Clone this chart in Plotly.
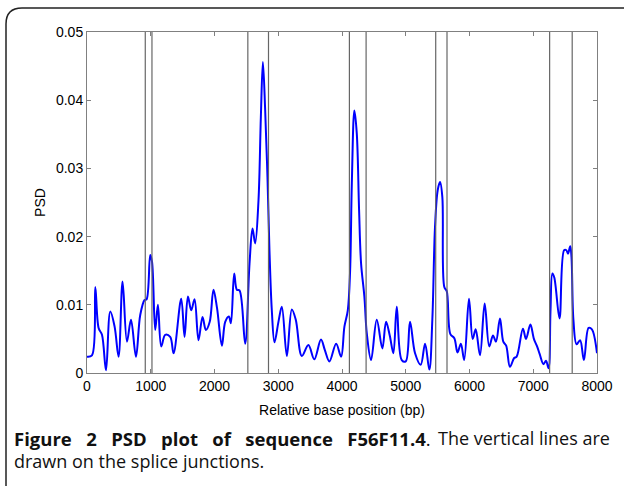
import plotly.graph_objects as go

# ---- data ----
position = [0, 78, 130, 182, 235, 298, 365, 433, 495, 558, 627, 690, 768, 835, 903, 935,
            992, 1020, 1070, 1112, 1165, 1227, 1305, 1358, 1478, 1530, 1583, 1635, 1687,
            1749, 1812, 1865, 1925, 1984, 2040, 2116, 2168, 2225, 2257, 2309, 2351, 2393,
            2481, 2549, 2596, 2638, 2690, 2727, 2759, 2795, 2831, 2862, 2899, 2941, 3003,
            3056, 3135, 3213, 3275, 3370, 3473, 3565, 3670, 3730, 3803, 3908, 3986, 4038,
            4091, 4127, 4154, 4194, 4232, 4268, 4299, 4351, 4389, 4456, 4545, 4633, 4691,
            4749, 4806, 4859, 4937, 5000, 5067, 5146, 5235, 5303, 5370, 5417, 5459, 5501,
            5538, 5574, 5605, 5643, 5700, 5762, 5812, 5865, 5916, 5992, 6050, 6097, 6165,
            6238, 6310, 6368, 6415, 6478, 6530, 6575, 6635, 6700, 6740, 6838, 6886, 6955,
            7010, 7060, 7100, 7160, 7200, 7240, 7270, 7300, 7330, 7412, 7484, 7520, 7545,
            7580, 7600, 7630, 7680, 7735, 7795, 7868, 7920, 8000]
psd = [0.0024, 0.0026, 0.0126, 0.0066, 0.0056, 0.0004, 0.0090, 0.0068, 0.0024, 0.0134,
       0.0046, 0.0078, 0.0024, 0.0085, 0.0107, 0.0108, 0.0173, 0.0163, 0.0063, 0.0100,
       0.0039, 0.0056, 0.0053, 0.0029, 0.0109, 0.0053, 0.0112, 0.0092, 0.0108, 0.0048,
       0.0082, 0.0063, 0.0075, 0.0122, 0.0095, 0.0040, 0.0075, 0.0083, 0.0073, 0.0146,
       0.0122, 0.0121, 0.0043, 0.0160, 0.0212, 0.0190, 0.0253, 0.0375, 0.0456, 0.0385,
       0.0287, 0.0180, 0.0092, 0.0045, 0.0075, 0.0097, 0.0025, 0.0093, 0.0078, 0.0025,
       0.0041, 0.0020, 0.0049, 0.0034, 0.0017, 0.0043, 0.0024, 0.0068, 0.0092, 0.0150,
       0.0278, 0.0385, 0.0351, 0.0239, 0.0161, 0.0112, 0.0058, 0.0019, 0.0078, 0.0036,
       0.0075, 0.0055, 0.0029, 0.0097, 0.0019, 0.0017, 0.0075, 0.0029, 0.0012, 0.0043,
       0.0005, 0.0078, 0.0214, 0.0268, 0.0280, 0.0258, 0.0126, 0.0120, 0.0057, 0.0051,
       0.0030, 0.0043, 0.0019, 0.0109, 0.0050, 0.0064, 0.0026, 0.0102, 0.0039, 0.0055,
       0.0046, 0.0080, 0.0046, 0.0040, 0.0009, 0.0022, 0.0024, 0.0065, 0.0050, 0.0071,
       0.0050, 0.0039, 0.0028, 0.0013, 0.0018, 0.0007, 0.0090, 0.0146, 0.0140, 0.0080,
       0.0180, 0.0180, 0.0175, 0.0186, 0.0170, 0.0078, 0.0042, 0.0048, 0.0019, 0.0066,
       0.0064, 0.0029]
splice_junctions = [914, 1019, 2523, 2847, 4116, 4378, 5470, 5647, 7257, 7611]
x_ticks = [0, 1000, 2000, 3000, 4000, 5000, 6000, 7000, 8000]
y_ticks = [0, 0.01, 0.02, 0.03, 0.04, 0.05]
y_tick_labels = ["0", "0.01", "0.02", "0.03", "0.04", "0.05"]

W, H = 624, 486
ML, MR, MT, MB = 87, 27, 32, 113
PW, PH = W - ML - MR, H - MT - MB


def px(x):
    return (x - ML) / PW


def py(y):
    return (H - MB - y) / PH


fig = go.Figure()
fig.add_trace(go.Scatter(x=position, y=psd, mode="lines",
                         line=dict(color="#0000FF", width=2, shape="spline", smoothing=1.0),
                         showlegend=False, hoverinfo="skip"))

shapes = []
for xj in splice_junctions:
    shapes.append(dict(type="line", xref="x", yref="paper", x0=xj, x1=xj, y0=0, y1=1,
                       line=dict(color="#666666", width=1.2), layer="above"))

# rounded frame around figure and caption
r = 16
path = (f"M {px(6)},{py(500)} L {px(6)},{py(8 + r)} "
        f"Q {px(6)},{py(8)} {px(6 + r)},{py(8)} L {px(640)},{py(8)}")
shapes.append(dict(type="path", xref="paper", yref="paper", path=path,
                   line=dict(color="#222222", width=1.5)))

font = dict(family="Liberation Sans, Arial, sans-serif", size=14, color="black")
axis_common = dict(showline=True, linecolor="#808080", linewidth=1, mirror="ticks",
                   ticks="inside", ticklen=4, tickcolor="#808080", showgrid=False,
                   zeroline=False, tickfont=font, automargin=False)

cap_font = dict(family="Open Sans, sans-serif", size=18, color="#111111")
bold_font = dict(family="Open Sans, sans-serif", size=18.5, color="#111111")
gap = " &nbsp;&nbsp;"
bold_words = ["Figure", "2", "PSD", "plot", "of", "sequence", "F56F11.4"]
fig.update_layout(
    width=W, height=H, margin=dict(l=ML, r=MR, t=MT, b=MB),
    paper_bgcolor="white", plot_bgcolor="white",
    xaxis=dict(range=[0, 8000], tickvals=x_ticks, **axis_common,
               title=dict(text="Relative base position (bp)", font=font, standoff=12)),
    yaxis=dict(range=[0, 0.05], tickvals=y_ticks, ticktext=y_tick_labels, **axis_common,
               title=dict(text="PSD", font=font, standoff=7)),
    shapes=shapes,
    annotations=[
        dict(xref="paper", yref="paper", x=px(12), y=py(438), xanchor="left", yanchor="middle",
             showarrow=False, align="left",
             text="<b>" + gap.join(bold_words) + "</b>.",
             font=bold_font),
        dict(xref="paper", yref="paper", x=px(612), y=py(438), xanchor="right", yanchor="middle",
             showarrow=False, align="right",
             text="The vertical lines are",
             font=cap_font),
        dict(xref="paper", yref="paper", x=px(12), y=py(461), xanchor="left", yanchor="middle",
             showarrow=False, align="left",
             text="drawn on the splice junctions.",
             font=cap_font),
    ],
)

fig.write_html("out.html", config={"displayModeBar": False},
               post_script="document.body.style.margin='0';")
